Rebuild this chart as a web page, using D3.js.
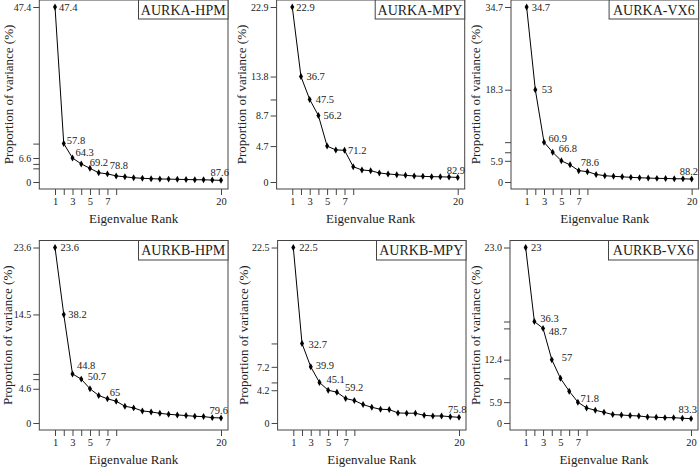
<!DOCTYPE html>
<html><head><meta charset="utf-8">
<script src="https://cdn.jsdelivr.net/npm/d3@7"></script>
<style>body{margin:0;background:#fff} svg{display:block}</style>
</head><body><svg id="c" width="700" height="468"></svg>
<script>
// ---------------- data ----------------
const ranks = d3.range(1, 21);
const panelNames = ["AURKA-HPM", "AURKA-MPY", "AURKA-VX6", "AURKB-HPM", "AURKB-MPY", "AURKB-VX6"];

const aurkaHpm = [47.4, 10.4, 6.5, 4.9, 3.7, 2.5, 2.2, 1.65, 1.4, 1.15, 1.0, 0.9, 0.82, 0.78, 0.72, 0.68, 0.62, 0.6, 0.52, 0.45];
const aurkaMpy = [22.9, 13.8, 10.8, 8.7, 4.7, 4.2, 4.15, 2.0, 1.57, 1.48, 1.18, 1.05, 0.96, 0.87, 0.79, 0.74, 0.7, 0.68, 0.65, 0.6];
const aurkaVx6 = [34.7, 18.3, 7.9, 5.9, 4.2, 3.4, 2.25, 2.05, 1.5, 1.25, 1.12, 1.03, 0.92, 0.84, 0.78, 0.72, 0.7, 0.65, 0.63, 0.58];
const aurkbHpm = [23.6, 14.6, 6.6, 5.9, 4.6, 3.7, 3.25, 2.93, 2.25, 2.03, 1.62, 1.49, 1.3, 1.17, 1.08, 1.0, 0.9, 0.86, 0.72, 0.68];
const aurkbMpy = [22.5, 10.2, 7.2, 5.2, 4.2, 3.95, 3.14, 2.88, 2.36, 2.01, 1.76, 1.72, 1.29, 1.25, 1.25, 0.98, 0.9, 0.9, 0.81, 0.72];
const aurkbVx6 = [23.0, 13.3, 12.4, 8.3, 5.85, 4.17, 2.73, 1.97, 1.67, 1.4, 1.1, 1.05, 0.97, 0.92, 0.79, 0.75, 0.7, 0.7, 0.62, 0.57];
const seriesValues = [aurkaHpm, aurkaMpy, aurkaVx6, aurkbHpm, aurkbMpy, aurkbVx6];

// x axis ticks
const xTickValues = [1, 2, 3, 4, 5, 6, 7, 8, 20];
const xTickLabels = ["1", "", "3", "", "5", "", "7", "", "20"];

// y axis ticks: ranks whose values get a tick (plus zero), and their labels
const yTickRanks = [
  [1, 2, 3, 4, 5], [1, 2, 3, 4, 5], [1, 2, 3, 4, 5],
  [1, 2, 3, 4, 5], [1, 2, 3, 4, 5], [1, 2, 3, 4, 5, 7]
];
const yTickLabels = [
  ["47.4", "", "6.6", "", "", "0"],
  ["22.9", "13.8", "", "8.7", "4.7", "0"],
  ["34.7", "18.3", "", "", "5.9", "0"],
  ["23.6", "14.5", "", "", "4.6", "0"],
  ["22.5", "", "7.2", "", "4.2", "0"],
  ["23.0", "", "", "12.4", "", "5.9", "0"]
];

// cumulative-variance annotations: attached rank and text
const annoRanks = [
  [1, 2, 3, 4, 7, 20], [1, 2, 3, 4, 7, 20], [1, 2, 3, 4, 7, 20],
  [1, 2, 3, 4, 7, 20], [1, 2, 3, 4, 7, 20], [1, 2, 3, 4, 7, 20]
];
const annoTexts = [
  ["47.4", "57.8", "64.3", "69.2", "78.8", "87.6"],
  ["22.9", "36.7", "47.5", "56.2", "71.2", "82.9"],
  ["34.7", "53", "60.9", "66.8", "78.6", "88.2"],
  ["23.6", "38.2", "44.8", "50.7", "65", "79.6"],
  ["22.5", "32.7", "39.9", "45.1", "59.2", "75.8"],
  ["23", "36.3", "48.7", "57", "71.8", "83.3"]
];

// ---------------- layout (pixels) ----------------
const boxes = [
  {l: 39.3, r: 228, t: 0, b: 189},
  {l: 276.6, r: 464.7, t: 0, b: 189},
  {l: 511, r: 698.6, t: 0, b: 189},
  {l: 39.3, r: 228, t: 240.5, b: 430},
  {l: 277.6, r: 466, t: 240.5, b: 430},
  {l: 510, r: 698, t: 240.5, b: 430}
];
const annoNudge = [
  [[4, 0], [3, -3], [3, -6], [8.5, -1], [2.2, -8], [-10.5, -8]],
  [[4, 0], [5.5, 0], [6, 0], [5, 0], [3.5, 0], [-11, -7]],
  [[5, 0], [6.5, 0], [4.5, -4], [6, -4], [2, -8], [-12, -8]],
  [[5.5, 0], [4.5, 0], [4.5, -8], [6.5, -3], [2.3, -6], [-11.5, -7.5]],
  [[6, 0], [6.5, 1], [5, -1], [7, -3], [-0.7, -10.5], [-11, -7.7]],
  [[5.3, 0], [6, -3.3], [5.6, 3.3], [10, -2], [2.7, -3.7], [-12.5, -9]]
];
const ylabX = [8.3, 241.7, 475, 7, 243, 475];

const FONT = "'Liberation Serif', 'DejaVu Serif', serif";
const TXT = "#222";
const FRAME = "#444";

const svg = d3.select("#c");

seriesValues.forEach((vals, i) => {
  const bx = boxes[i];
  const ymax = vals[0];
  const x = d3.scaleLinear().domain([-0.8, 20.8]).range([bx.l, bx.r]);
  const y = d3.scaleLinear().domain([-0.04 * ymax, 1.04 * ymax]).range([bx.b, bx.t]);
  const g = svg.append("g");

  // frame
  g.append("rect").attr("x", bx.l).attr("y", bx.t)
    .attr("width", bx.r - bx.l).attr("height", bx.b - bx.t)
    .attr("fill", "none").attr("stroke", FRAME).attr("stroke-width", 1);

  // x axis
  const xAxis = d3.axisBottom(x).tickValues(xTickValues)
    .tickFormat((d, k) => xTickLabels[k]).tickSize(6).tickPadding(3).tickSizeOuter(0);
  const xg = g.append("g").attr("transform", `translate(0,${bx.b})`).call(xAxis);
  xg.select(".domain").remove();
  xg.selectAll("line").attr("stroke", FRAME);
  xg.selectAll("text").attr("font-family", FONT).attr("font-size", 10.5).attr("fill", TXT);

  // y axis
  const tv = yTickRanks[i].map(r => vals[r - 1]).concat([0]);
  const yAxis = d3.axisLeft(y).tickValues(tv)
    .tickFormat((d, k) => yTickLabels[i][k]).tickSize(6).tickPadding(2).tickSizeOuter(0);
  const yg = g.append("g").attr("transform", `translate(${bx.l},0)`).call(yAxis);
  yg.select(".domain").remove();
  yg.selectAll("line").attr("stroke", FRAME);
  yg.selectAll("text").attr("font-family", FONT).attr("font-size", 10).attr("fill", TXT);

  // axis titles
  g.append("text").attr("x", (bx.l + bx.r) / 2).attr("y", bx.b + 34)
    .attr("text-anchor", "middle").attr("font-family", FONT).attr("font-size", 13)
    .attr("fill", TXT).text("Eigenvalue Rank");
  g.append("text").attr("transform", `translate(${ylabX[i]},${(bx.t + bx.b) / 2}) rotate(-90)`)
    .attr("text-anchor", "middle").attr("dominant-baseline", "central")
    .attr("font-family", FONT).attr("font-size", 13).attr("fill", TXT)
    .text("Proportion of variance (%)");

  // line + points
  const pts = ranks.map((r, k) => [r, vals[k]]);
  g.append("path").datum(pts)
    .attr("d", d3.line().x(d => x(d[0])).y(d => y(d[1])))
    .attr("fill", "none").attr("stroke", "#000").attr("stroke-width", 1);
  g.selectAll(".pt").data(pts).enter().append("path")
    .attr("transform", d => `translate(${x(d[0])},${y(d[1])})`)
    .attr("d", d3.symbol().type(d3.symbolDiamond).size(14))
    .attr("fill", "#000");

  // annotations
  annoRanks[i].forEach((r, k) => {
    g.append("text")
      .attr("x", x(r) + annoNudge[i][k][0]).attr("y", y(vals[r - 1]) + annoNudge[i][k][1])
      .attr("dominant-baseline", "central")
      .attr("font-family", FONT).attr("font-size", 10.5).attr("fill", TXT)
      .text(annoTexts[i][k]);
  });

  // legend box (top right)
  const lw = 89.5, lh = bx.t === 0 ? 19 : 19.5;
  g.append("rect").attr("x", bx.r - lw).attr("y", bx.t).attr("width", lw).attr("height", lh)
    .attr("fill", "#fff").attr("stroke", FRAME).attr("stroke-width", 1);
  g.append("text").attr("x", bx.r - lw / 2).attr("y", bx.t + lh / 2 + 0.5)
    .attr("text-anchor", "middle").attr("dominant-baseline", "central")
    .attr("font-family", FONT).attr("font-size", 14).attr("fill", TXT)
    .text(panelNames[i]);
});
</script>
</body></html>
